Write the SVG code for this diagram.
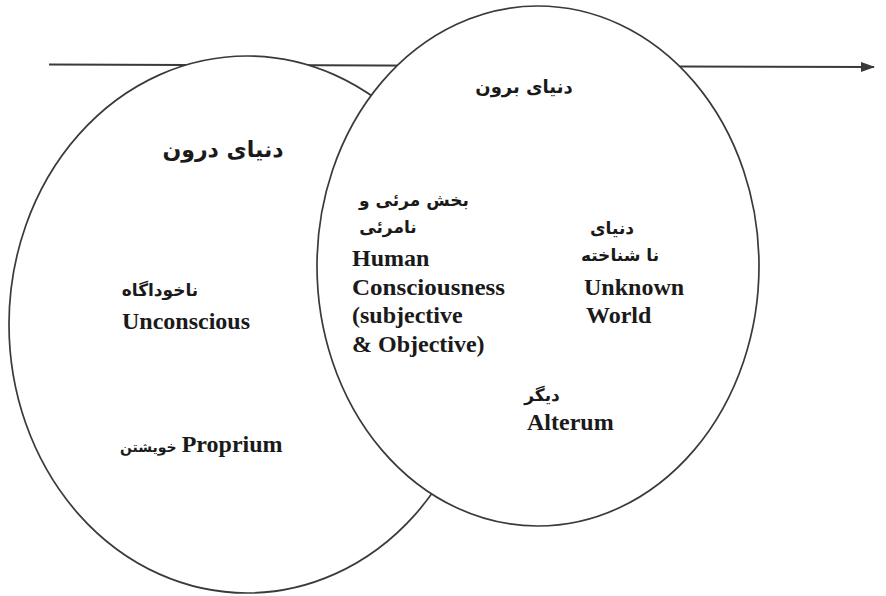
<svg xmlns="http://www.w3.org/2000/svg" width="886" height="596" viewBox="0 0 886 596">
  <style>
    .world { fill: #ffffff; stroke: #3a3a3a; stroke-width: 1.7; }
    .axis { stroke: #3a3a3a; stroke-width: 2; fill: none; }
    .fa { font-family: "DejaVu Sans", "Noto Sans", sans-serif; font-weight: bold; fill: #1a1a1a; text-anchor: middle; }
    .en { font-family: "Liberation Serif", "Times New Roman", serif; font-weight: bold; font-size: 24px; fill: #1a1a1a; }
  </style>
  <defs>
    <marker id="arrowhead" viewBox="0 0 14 10" refX="13" refY="5" markerWidth="14" markerHeight="10" markerUnits="userSpaceOnUse" orient="auto">
      <path d="M0,0 L14,5 L0,10 Z" fill="#3a3a3a"/>
    </marker>
  </defs>

  <!-- time axis, passes behind both worlds -->
  <g id="connectors">
    <line class="axis" x1="49" y1="64.5" x2="874" y2="67" marker-end="url(#arrowhead)"/>
  </g>

  <!-- inner world -->
  <g id="inner-world">
    <ellipse class="world" cx="247" cy="324.5" rx="238" ry="268.5"/>
    <text class="fa" x="223" y="157" font-size="22">دنیای درون</text>
    <text class="fa" x="160" y="296" font-size="17">ناخوداگاه</text>
    <text class="en" x="122" y="329">Unconscious</text>
    <text x="120" y="452" style="text-anchor:start"><tspan class="fa" font-size="14" style="text-anchor:start">خویشتن</tspan><tspan class="en" dx="5">Proprium</tspan></text>
  </g>

  <!-- outer world, drawn over the inner one -->
  <g id="outer-world">
    <ellipse class="world" cx="538" cy="266" rx="221" ry="260"/>
    <text class="fa" x="524" y="93" font-size="18">دنیای برون</text>

    <g id="consciousness">
      <text class="fa" x="414" y="206" font-size="17">بخش مرئی و</text>
      <text class="fa" x="388" y="233" font-size="17">نامرئی</text>
      <text class="en" x="352" y="266">Human</text>
      <text class="en" x="352" y="295" textLength="153" lengthAdjust="spacingAndGlyphs">Consciousness</text>
      <text class="en" x="352" y="323">(subjective</text>
      <text class="en" x="352" y="352">&amp; Objective)</text>
    </g>

    <g id="unknown-world">
      <text class="fa" x="612" y="234" font-size="17">دنیای</text>
      <text class="fa" x="620" y="261" font-size="17">نا شناخته</text>
      <text class="en" x="584" y="295">Unknown</text>
      <text class="en" x="586" y="323">World</text>
    </g>

    <g id="alterum">
      <text class="fa" x="542" y="401" font-size="17">دیگر</text>
      <text class="en" x="527" y="430">Alterum</text>
    </g>
  </g>
</svg>
